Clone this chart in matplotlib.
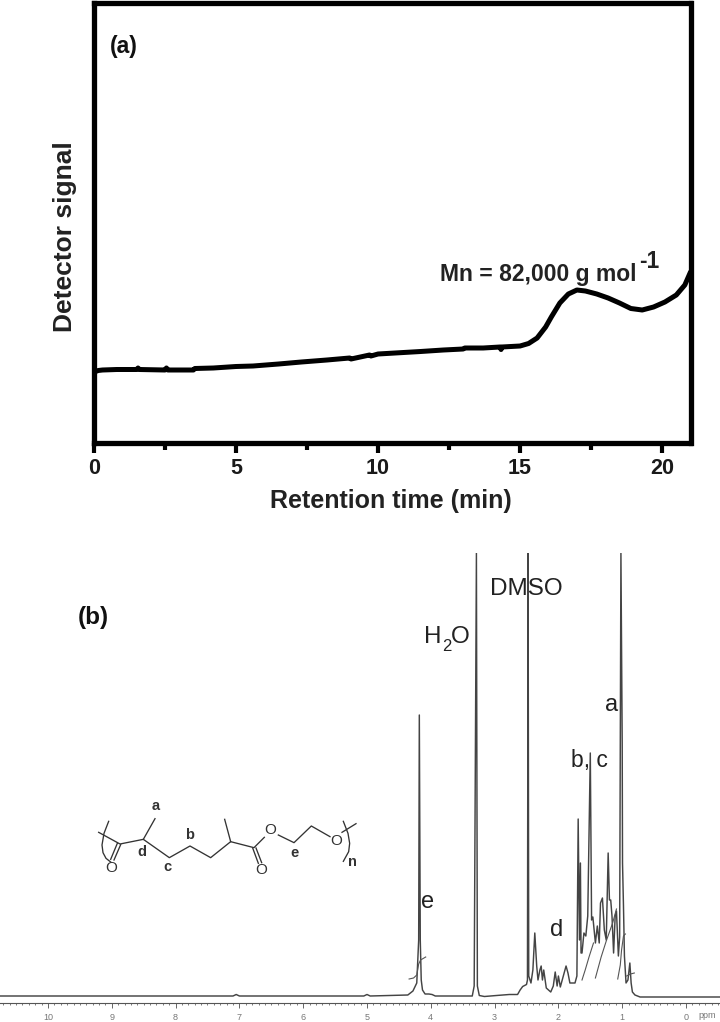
import matplotlib
matplotlib.use("Agg")
import matplotlib.pyplot as plt
import numpy as np
from matplotlib.ticker import MultipleLocator, NullFormatter

plt.rcParams['font.family'] = ['Liberation Sans', 'DejaVu Sans']

W, H = 720, 1022

# ---- panel (a): retention time (min) / detector signal (arbitrary units)
gpc_time = [0, .15, .3, .8, 1.5, 1.55, 1.6, 2.5, 2.55, 2.6, 3.5, 3.55, 4.2, 5, 5.6, 6.5, 7.3, 8.2, 9, 9.05, 9.7, 9.75, 10, 10.6,
            11.5, 12.3, 13, 13.05, 13.7, 14.3, 14.33, 14.36, 15, 15.3, 15.6, 15.9, 16.1, 16.4, 16.7, 17, 17.3, 17.7, 18.1, 18.5,
            18.9, 19.3, 19.7, 20.1, 20.5, 20.8, 21]
gpc_signal = [71, 72.5, 73, 73.5, 73.5, 75, 73.5, 73, 75, 73, 73, 74.5, 75, 76.5, 77, 79, 81, 83, 85, 84, 88, 87, 89, 90,
              91.5, 93, 94, 95, 95, 96, 93.5, 96, 97, 99.5, 105, 116, 126, 140, 149, 153, 152, 149, 145, 140,
              134.5, 133, 136, 141, 148, 158, 171]
gpc_xticks = [0, 5, 10, 15, 20]

# ---- panel (b): 1H NMR, chemical shift (ppm) / intensity (arbitrary units)
nmr_ppm = [10.75, 9.0, 7.1, 7.05, 7.0, 5.05, 5.0, 4.95, 4.36, 4.28, 4.22, 4.19, 4.18, 4.165, 4.15, 4.13, 4.09,
           4.03, 3.98, 3.93, 3.35, 3.32, 3.285, 3.27, 3.24, 3.16, 2.97, 2.77, 2.64, 2.6, 2.56, 2.5, 2.485,
           2.475, 2.465, 2.43, 2.4, 2.37, 2.34, 2.32, 2.29, 2.27, 2.25, 2.23, 2.19, 2.12, 2.08, 2.05, 2.02,
           2.0, 1.97, 1.94, 1.91, 1.88, 1.85, 1.82, 1.74, 1.71, 1.69, 1.67, 1.655, 1.645, 1.63, 1.6, 1.57,
           1.54, 1.5, 1.48, 1.46, 1.42, 1.39, 1.36, 1.34, 1.31, 1.28, 1.25, 1.22, 1.2, 1.18, 1.16, 1.135,
           1.11, 1.09, 1.06, 1.04, 1.02, 1.0, 0.995, 0.98, 0.965, 0.94, 0.91, 0.88, 0.86, 0.84, 0.8, 0.72, 0.6, -0.55]
nmr_int = [1, 1, 1, 2.5, 1, 1, 2.5, 1, 2, 6, 14, 57, 282, 57, 17, 7, 3, 3, 2.5, 1, 1, 11, 444, 11, 1.5, 0.5, 1.5, 2.5, 2.5, 7,
           10.5, 12.5, 17, 444, 21, 14, 27, 64, 31, 17, 27, 31, 17, 27, 9, 5, 11, 25, 11, 21, 10, 17, 24, 31,
           24, 14, 14, 21, 178, 57, 134, 44, 44, 64, 61, 81, 244, 77, 80, 54, 71, 54, 94, 99, 67, 57, 144, 97, 97,
           81, 44, 81, 86, 41, 60, 444, 254, 134, 91, 41, 14, 17, 34, 14, 5, 2, 0, 0, 0]

integral_e_ppm = [4.34, 4.27, 4.22, 4.19, 4.16, 4.08]
integral_e_int = [18, 19, 22, 33, 37, 40]
integral_1_ppm = [1.63, 1.58, 1.52, 1.45]
integral_1_int = [17, 27, 40, 54]
integral_2_ppm = [1.42, 1.33, 1.25, 1.15, 1.09]
integral_2_int = [19, 40, 56, 74, 88]
integral_3_ppm = [1.07, 1.03, 1.01, 0.98, 0.95]
integral_3_int = [18, 32, 47, 61, 63]
integral_4_ppm = [0.93, 0.87, 0.81]
integral_4_int = [21, 23, 24]

nmr_xticks = list(range(0, 11))

# ---- structural formula of the polymer, in zoomed sketch units
chain_x = [296, 360, 430, 508, 570, 632, 692, 762, 793]
chain_y = [157, 192, 178, 233, 198, 233, 185, 203, 172]
ether_x = [835, 882, 934, 990]
ether_y = [165, 188, 138, 170]
end_x = [1026, 1068]
end_y = [157, 131]
methyl_1_x, methyl_1_y = [430, 465], [178, 116]
methyl_2_x, methyl_2_y = [692, 674], [185, 118]
carbonyl_1 = [([362, 342], [194, 240]), ([352, 332], [190, 238])]
carbonyl_2 = [([768, 785], [204, 248]), ([758, 775], [204, 250])]
bracket_left_x = [326, 312, 306, 309, 318, 332]
bracket_left_y = [124, 160, 195, 218, 235, 246]
bracket_right_x = [1030, 1044, 1049, 1046, 1030]
bracket_right_y = [124, 160, 190, 215, 244]
oxygens = [(333, 264), (784, 271), (810, 151), (1009, 182)]
atom_labels = [("a", 468, 78), ("d", 427, 215), ("c", 503, 260), ("b", 568, 165), ("e", 884, 220), ("n", 1058, 247)]

fig = plt.figure(figsize=(W / 100, H / 100), dpi=100, facecolor='white')


def rect(l, t, r, b):
    return [l / W, 1 - b / H, (r - l) / W, (b - t) / H]


# ---------- panel (a)
ax = fig.add_axes(rect(94, 3, 690.5, 443))
ax.plot(gpc_time, gpc_signal, color='black', lw=3.6, solid_capstyle='round', solid_joinstyle='round')
ax.set_xlim(0, 21)
ax.set_ylim(0, 440)
ax.set_yticks([])
ax.set_xticks(gpc_xticks)
ax.xaxis.set_minor_locator(MultipleLocator(2.5))
ax.xaxis.set_minor_formatter(NullFormatter())
for s in ax.spines.values():
    s.set_linewidth(3.8)
ax.tick_params(axis='x', which='major', length=7, width=3, pad=3.5, labelsize=15.5)
ax.tick_params(axis='x', which='minor', length=5, width=3)
for t in ax.get_xticklabels():
    t.set_fontweight('bold')
    t.set_color('#1a1a1a')
fig.text(391 / W, 1 - 501 / H, "Retention time (min)", ha='center', va='center',
         fontsize=18, fontweight='bold', color='#222222')
fig.text(65 / W, 1 - 237 / H, "Detector signal", rotation=90, ha='center', va='center',
         fontsize=19, fontweight='bold', color='#222222')
fig.text(110 / W, 1 - 47 / H, "(a)", ha='left', va='center', fontsize=16.5, fontweight='bold', color='#111111')
fig.text(440 / W, 1 - 275 / H, "Mn = 82,000 g mol", ha='left', va='center',
         fontsize=16.5, fontweight='bold', color='#222222')
fig.text(639 / W, 1 - 261 / H, "-1", ha='left', va='center',
         fontsize=16.5, fontweight='bold', color='#222222')

# ---------- panel (b)
px_per_ppm = 63.8
bx = fig.add_axes(rect(0, 553, W, 1003))
bx.patch.set_alpha(0)
bx.plot(nmr_ppm, nmr_int, color='#444444', lw=1.05, solid_joinstyle='round')
for px, py in [(integral_e_ppm, integral_e_int), (integral_1_ppm, integral_1_int),
               (integral_2_ppm, integral_2_int), (integral_3_ppm, integral_3_int),
               (integral_4_ppm, integral_4_int)]:
    bx.plot(px, py, color='#555555', lw=0.8)
bx.set_xlim(686 / px_per_ppm, (686 - W) / px_per_ppm)
bx.set_ylim(-6, 444)
bx.set_yticks([])
bx.set_xticks(nmr_xticks)
bx.xaxis.set_minor_locator(MultipleLocator(0.1))
bx.xaxis.set_minor_formatter(NullFormatter())
for k in ('top', 'left', 'right'):
    bx.spines[k].set_visible(False)
bx.spines['bottom'].set_linewidth(0.8)
bx.spines['bottom'].set_color('#555555')
bx.tick_params(axis='x', which='major', length=3.5, width=0.7, color='#666666', pad=3.5,
               labelsize=6.5, labelcolor='#777777')
bx.tick_params(axis='x', which='minor', length=1.5, width=0.6, color='#666666')
fig.text(707 / W, 1 - 1016 / H, "ppm", ha='center', va='center', fontsize=6.5, color='#777777')

fig.text(78 / W, 1 - 617 / H, "(b)", ha='left', va='center', fontsize=17.5, fontweight='bold', color='#111111')
for s, x, y, fs in [("DMSO", 526, 589, 17.5), ("a", 612, 705, 17),
                    ("b, c", 589, 760, 16.5), ("d", 557, 930, 17), ("e", 428, 902, 17)]:
    fig.text(x / W, 1 - y / H, s, ha='center', va='center', fontsize=fs, color='#222222')
fig.text(424 / W, 1 - 637 / H, "H", ha='left', va='center', fontsize=17.5, color='#222222')
fig.text(442 / W, 1 - 646 / H, "2", ha='left', va='center', fontsize=12, color='#222222')
fig.text(451 / W, 1 - 637 / H, "O", ha='left', va='center', fontsize=17.5, color='#222222')

# ---------- structural formula (overlay in sketch units: zoomed 3x, origin at y = 780)
mx = fig.add_axes([0, 0, 1, 1])
mx.patch.set_alpha(0)
mx.axis('off')
mx.set_xlim(0, W * 3)
mx.set_ylim((H - 780) * 3, -780 * 3)
ink = '#333333'
for x, y in [(chain_x, chain_y), (ether_x, ether_y), (end_x, end_y), (methyl_1_x, methyl_1_y),
             (methyl_2_x, methyl_2_y), carbonyl_1[0], carbonyl_1[1], carbonyl_2[0], carbonyl_2[1],
             (bracket_left_x, bracket_left_y), (bracket_right_x, bracket_right_y)]:
    mx.plot(x, y, color=ink, lw=0.95)
for x, y in oxygens:
    mx.text(x, y, "O", ha='center', va='center', fontsize=11, color=ink)
for s, x, y in atom_labels:
    mx.text(x, y, s, ha='center', va='center', fontsize=10.5, fontweight='bold', color=ink)

fig.savefig("out.png", dpi=100, facecolor='white')
